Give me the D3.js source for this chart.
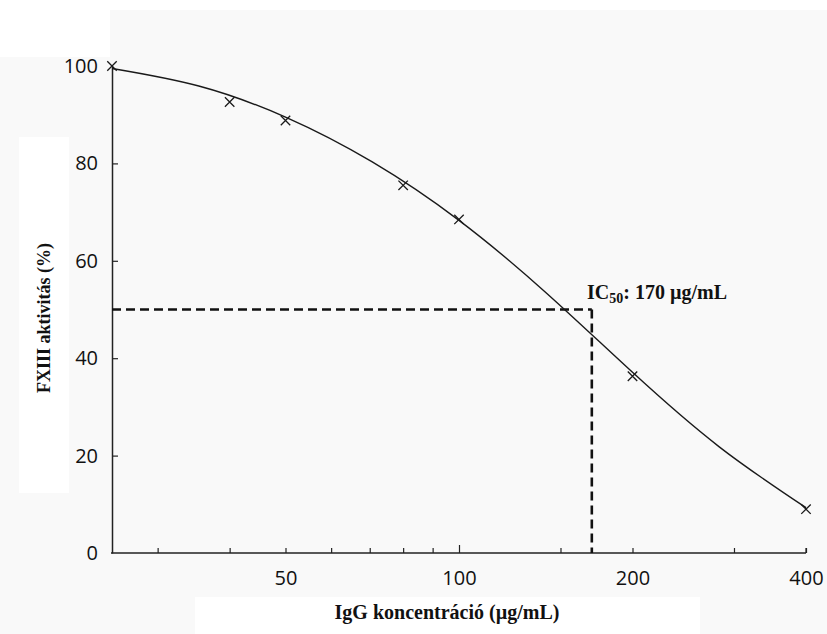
<!DOCTYPE html>
<html>
<head>
<meta charset="utf-8">
<script src="https://cdn.jsdelivr.net/npm/d3@7/dist/d3.min.js"></script>
<style>
  html, body { margin: 0; padding: 0; background: #ffffff; }
  svg { display: block; }
</style>
</head>
<body>
<script>
// Measured FXIII activity at each IgG concentration
const concentrations = [25, 40, 50, 80, 100, 200, 400];
const activity = [100, 92.6, 88.8, 75.5, 68.5, 36.3, 9];

// Fitted inhibition curve, sampled at half-octave steps
const fitConc = [25, 35.36, 50, 70.71, 100, 141.42, 200, 282.84, 400];
const fitActivity = [99.5, 95.9, 89.5, 80.3, 68.3, 53.5, 37.1, 21.8, 9.3];

// Half-maximal inhibitory concentration
const ic50 = 170;
const halfActivity = 50;

// Axis ticks
const xLabeledTicks = [50, 100, 200, 400];
const xMinorTicks = [30, 40, 60, 70, 80, 90, 150, 300];
const yTicks = [0, 20, 40, 60, 80, 100];

const W = 827, H = 634;
const svg = d3.select("body").append("svg").attr("width", W).attr("height", H);

// background panels
svg.append("rect").attr("x", 0).attr("y", 57).attr("width", W).attr("height", H - 57).attr("fill", "#f9f9f9");
svg.append("rect").attr("x", 110).attr("y", 10).attr("width", W - 110).attr("height", 50).attr("fill", "#f9f9f9");
svg.append("rect").attr("x", 19).attr("y", 137).attr("width", 50).attr("height", 356).attr("fill", "#ffffff");
svg.append("rect").attr("x", 195).attr("y", 597).attr("width", 505).attr("height", 37).attr("fill", "#ffffff");

const x = d3.scaleLog().base(2).domain([25, 400]).range([112, 806]);
const y = d3.scaleLinear().domain([0, 100]).range([553, 66]);

const tickFont = "'Open Sans', 'DejaVu Sans', sans-serif";
const serif = "'Liberation Serif', 'Times New Roman', serif";

// x axis
const xAxis = d3.axisBottom(x)
  .tickValues(xLabeledTicks.concat(xMinorTicks).sort((a, b) => a - b))
  .tickFormat(d => xLabeledTicks.includes(d) ? String(d) : "")
  .tickSizeInner(-5)
  .tickSizeOuter(0)
  .tickPadding(18);
const gx = svg.append("g").attr("transform", `translate(0,${y(0)})`).call(xAxis);
gx.select(".domain").attr("d", `M${x(25) - 1},0H${x(400)}`).attr("stroke", "#222").attr("stroke-width", 1.5);
gx.selectAll(".tick line").attr("stroke", "#222").attr("stroke-width", 1.2)
  .attr("y2", d => d === 100 ? -8 : -5);
gx.selectAll(".tick text").attr("font-family", tickFont).attr("font-size", 20).attr("fill", "#111");
gx.append("line").attr("x1", x(400)).attr("x2", x(400)).attr("y1", 0).attr("y2", -5)
  .attr("stroke", "#222").attr("stroke-width", 1.2);

// y axis
const yAxis = d3.axisLeft(y)
  .tickValues(yTicks)
  .tickFormat(d3.format("d"))
  .tickSizeInner(-6)
  .tickSizeOuter(0)
  .tickPadding(14);
const gy = svg.append("g").attr("transform", `translate(${x(25)},0)`).call(yAxis);
gy.select(".domain").attr("stroke", "#222").attr("stroke-width", 1.5);
gy.selectAll(".tick line").attr("stroke", "#222").attr("stroke-width", 1.2)
  .attr("display", d => (d === 0 || d === 100) ? "none" : null);
gy.selectAll(".tick text").attr("font-family", tickFont).attr("font-size", 20).attr("fill", "#111");

// IC50 guide lines
const guide = svg.append("g").attr("stroke", "#111").attr("stroke-width", 2.6)
  .attr("stroke-dasharray", "9,5").attr("fill", "none");
guide.append("line").attr("x1", x(25)).attr("x2", x(ic50)).attr("y1", y(halfActivity)).attr("y2", y(halfActivity));
guide.append("line").attr("x1", x(ic50)).attr("x2", x(ic50)).attr("y1", y(halfActivity)).attr("y2", y(0));

// fitted curve
const fitPts = fitConc.map((c, i) => [c, fitActivity[i]]);
svg.append("path")
  .datum(fitPts)
  .attr("fill", "none")
  .attr("stroke", "#1a1a1a")
  .attr("stroke-width", 1.4)
  .attr("d", d3.line().x(d => x(d[0])).y(d => y(d[1])).curve(d3.curveNatural));

// measured points as crosses
const cross = d3.symbol().type(d3.symbolX).size(60);
svg.append("g").selectAll("path")
  .data(concentrations.map((c, i) => [c, activity[i]]))
  .join("path")
  .attr("transform", d => `translate(${x(d[0])},${y(d[1])})`)
  .attr("d", cross)
  .attr("fill", "none")
  .attr("stroke", "#1a1a1a")
  .attr("stroke-width", 1.3);

// IC50 annotation
const ann = svg.append("text")
  .attr("x", 587).attr("y", 299)
  .attr("font-family", serif).attr("font-weight", "bold").attr("font-size", 20).attr("fill", "#111");
ann.append("tspan").text("IC");
ann.append("tspan").attr("font-size", 14).attr("dy", 4).text("50");
ann.append("tspan").attr("dy", -4).text(`: ${ic50} µg/mL`);

// axis titles
svg.append("text")
  .attr("x", 447).attr("y", 619)
  .attr("text-anchor", "middle")
  .attr("font-family", serif).attr("font-weight", "bold").attr("font-size", 20).attr("fill", "#111")
  .text("IgG koncentráció (µg/mL)");

svg.append("text")
  .attr("transform", "translate(50,318) rotate(-90)")
  .attr("text-anchor", "middle")
  .attr("font-family", serif).attr("font-weight", "bold").attr("font-size", 18).attr("fill", "#111")
  .text("FXIII aktivitás (%)");
</script>
</body>
</html>
